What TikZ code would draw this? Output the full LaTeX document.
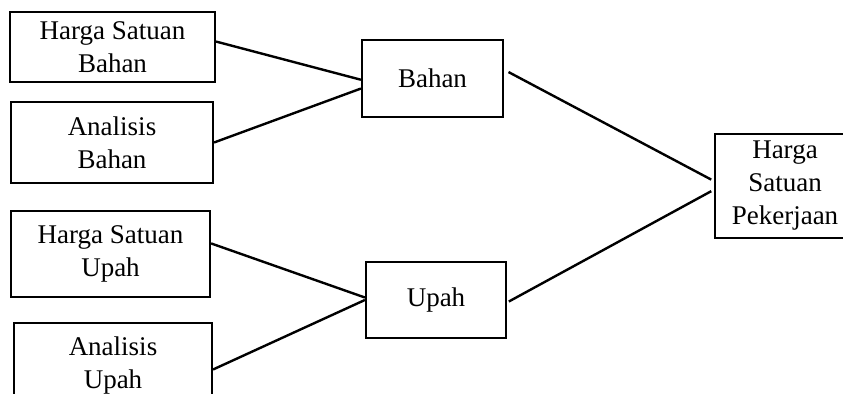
\documentclass[tikz,border=0pt]{standalone}
\usepackage{fontspec}
\setmainfont{Liberation Serif}
\usetikzlibrary{positioning}

\begin{document}
\begin{tikzpicture}[x=0.5pt,y=-0.5pt,
	kotak/.style={draw, line width=1.1pt, align=center, inner sep=0pt,
		font=\fontsize{13.5}{16.5}\selectfont},
	garis/.style={line width=1.2pt}]
	\useasboundingbox (0,0) rectangle (843,394);
	\clip (0,0) rectangle (843,394);
	\node[kotak, minimum width=102.5pt, minimum height=35pt] (hsb) at (112.5,47) {Harga Satuan\\Bahan};%bahan
	\node[kotak, minimum width=101pt, minimum height=40.5pt] (ab) at (112,142.5) {Analisis\\Bahan};
	\node[kotak, minimum width=70.5pt, minimum height=38.5pt] (bahan) at (432.5,78.5) {Bahan};
	\node[kotak, minimum width=99.5pt, minimum height=43pt] (hsu) at (110.5,254) {Harga Satuan\\Upah};%upah
	\node[kotak, minimum width=99pt, minimum height=43pt] (au) at (113,366) {Analisis\\Upah};
	\node[kotak, minimum width=70pt, minimum height=38pt] (upah) at (436,300) {Upah};
	\node[kotak, minimum width=70pt, minimum height=52pt] (hsp) at (785,186) {Harga\\Satuan\\Pekerjaan};%hasil
	\draw[garis] (hsb.3) -- (bahan.181);
	\draw[garis] (ab.east) -- (bahan.188);
	\draw[garis] (hsu.6) -- (upah.178);
	\draw[garis] (au.358) -- (upah.west);
	\draw[garis, shorten <=2.5pt, shorten >=1.5pt] (bahan.7) -- (hsp.176);
	\draw[garis, shorten <=1pt, shorten >=1.5pt] (upah.358) -- (hsp.183);
\end{tikzpicture}
\end{document}
